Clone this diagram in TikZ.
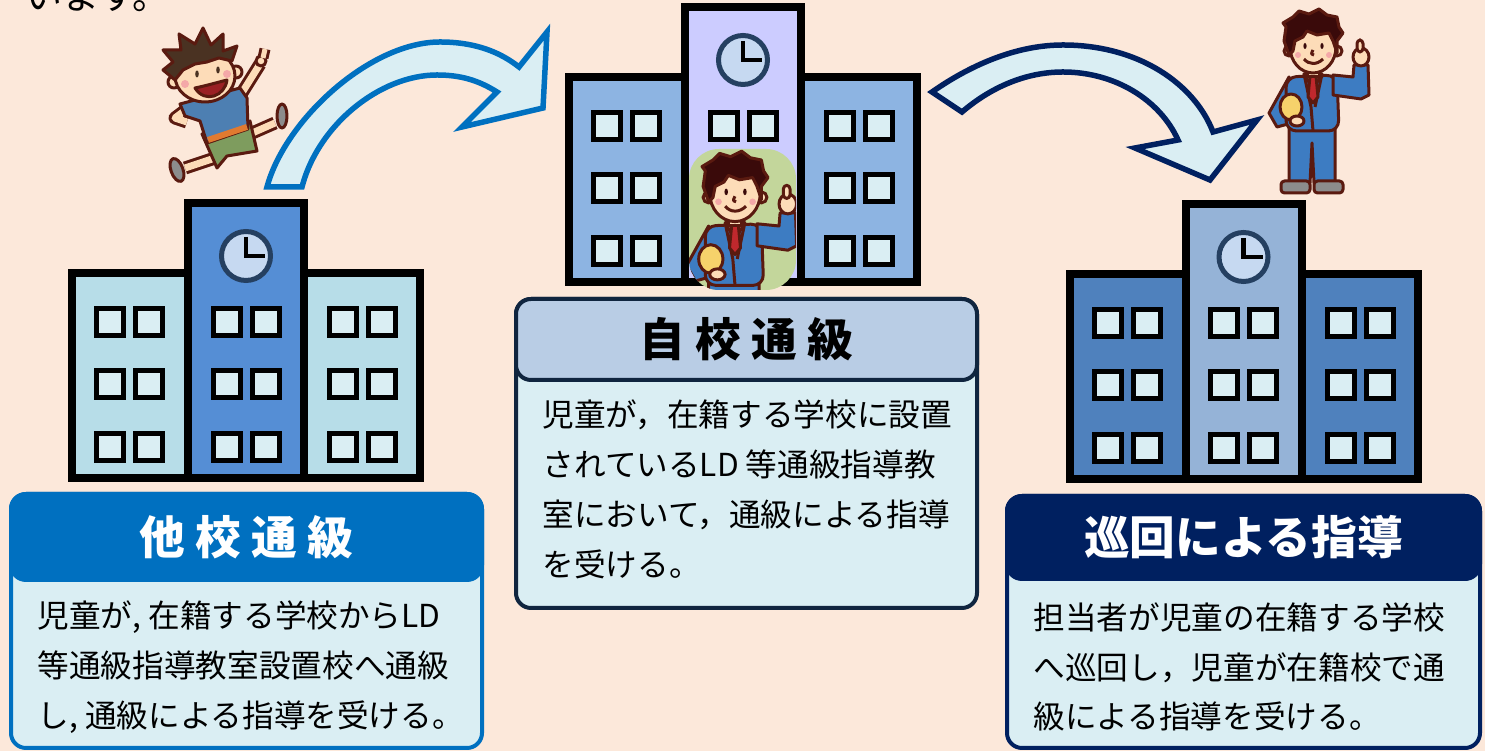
\documentclass[tikz,border=0pt]{standalone}
\usepackage{fontspec}
\newfontfamily\jp{Noto Sans CJK JP}
\usetikzlibrary{positioning}

\definecolor{paper}{HTML}{FCE8DA}
\definecolor{wingA}{HTML}{B7DDE8}
\definecolor{towerA}{HTML}{558ED5}
\definecolor{wingB}{HTML}{8DB4E2}
\definecolor{towerB}{HTML}{CCCCFF}
\definecolor{wingC}{HTML}{4F81BD}
\definecolor{towerC}{HTML}{95B3D7}
\definecolor{pane}{HTML}{DAEEF3}
\definecolor{dialface}{HTML}{C6D9F1}
\definecolor{dialring}{HTML}{254061}
\definecolor{takocol}{HTML}{0070C0}
\definecolor{jikocol}{HTML}{10253F}
\definecolor{jikohead}{HTML}{B9CDE5}
\definecolor{junkaicol}{HTML}{002060}
\definecolor{cardfill}{HTML}{DAEEF3}
\definecolor{panel}{HTML}{C3D69B}
\definecolor{suit}{HTML}{3D7CC2}
\definecolor{skin}{HTML}{FDDCB8}
\definecolor{hair}{HTML}{3A0A0A}
\definecolor{figline}{HTML}{5A1A10}
\definecolor{tie}{HTML}{C0282D}
\definecolor{folder}{HTML}{F6D26B}
\definecolor{shoe}{HTML}{8C8C8C}
\definecolor{cheek}{HTML}{F4A8A8}
\definecolor{shirt}{HTML}{4D7FB2}
\definecolor{shorts}{HTML}{7E9C5E}
\definecolor{hem}{HTML}{E07A30}
\definecolor{boyhair}{HTML}{4A3222}

\tikzset{
  wall/.style={draw=black, line width=0.8mm},
  pane/.style={draw=black, line width=0.5mm, fill=pane},
  dial/.style={draw=dialring, line width=0.5mm, fill=dialface},
  hands/.style={draw=black, line width=0.45mm},
  bigarrow/.style={draw=#1, line width=0.55mm, fill=cardfill, line join=miter},
  cardbody/.style={draw=#1, line width=0.4mm, fill=cardfill, rounded corners=1.5mm,
    inner sep=0, anchor=north west},
  cardhead/.style={draw=#1, line width=0.4mm, rounded corners=1.5mm, inner sep=0,
    anchor=north west, font=\jp\bfseries\fontsize{13pt}{13pt}\selectfont},
  bodytext/.style={font=\jp\fontsize{9pt}{14.2pt}\selectfont, align=left,
    inner sep=0, anchor=west},
  fig/.style={draw=figline, line width=0.3mm, line join=round},
}

% school building, #1 = bottom centre, #2 = wing colour, #3 = tower colour
\newcommand\school[3]{%
  \begin{scope}[shift={#1}]
    \draw[wall, fill=#2] (-174,-205) rectangle (-58,0);
    \draw[wall, fill=#2] (58,-205) rectangle (174,0);
    \draw[wall, fill=#3] (-58,-275) rectangle (58,0);
    \foreach \wx in {-136,-97,-19.5,19.5,97,136}
      \foreach \wy in {-155.5,-93.5,-31}
        \draw[pane] (\wx-13.5,\wy-13.5) rectangle ++(27,27);
    \draw[dial] (0,-222) circle (24.5);
    \draw[hands] (0,-241) -- (0,-222) -- (19,-222);
  \end{scope}}

% teacher, #1 = centre of the head, #2 = scale
\newcommand\teacher[2]{%
  \begin{scope}[shift={#1}, scale=#2]
    % legs
    \draw[fig, fill=suit] (-24,80) -- (22,80) -- (22,136) -- (1,136) -- (-1,96)
      -- (-3,136) -- (-24,136) -- cycle;
    \draw[fig, fill=shoe, rounded corners=1pt] (-32,134) rectangle (-3,146);
    \draw[fig, fill=shoe, rounded corners=1pt] (1,134) rectangle (30,146);
    % arm with the folder
    \draw[fig, fill=suit] (-24,30) -- (-44,66) -- (-36,80) -- (-14,74) -- (-16,60) -- cycle;
    % jacket
    \draw[fig, fill=suit, rounded corners=3pt] (-27,30) -- (24,28) -- (26,84)
      -- (-27,84) -- cycle;
    \draw[fig] (-9,27) -- (-2,60) -- (0,84);
    \draw[fig] (9,27) -- (2,60);
    % raised arm
    \draw[fig, fill=suit] (20,28) -- (40,30) -- (41,18) -- (55,18) -- (56,48)
      -- (48,52) -- (20,48) -- cycle;
    \draw[fig, fill=skin] (48,10) ellipse (8 and 9);
    \draw[fig, fill=skin, rounded corners=1pt] (44,-7) rectangle (50,5);
    % collar and tie
    \draw[fig, fill=white] (-9,27) -- (9,27) -- (0,42) -- cycle;
    \draw[fig, fill=tie] (-3,29) -- (3,29) -- (5,50) -- (0,56) -- (-5,50) -- cycle;
    % folder
    \draw[fig, fill=folder] (-22,60) ellipse (11 and 13);
    \draw[fig, fill=skin] (-16,74) ellipse (7 and 5);
    % head
    \draw[fig, fill=skin] (-6,18) rectangle (6,30);
    \draw[fig, fill=skin] (-24,4) circle (5);
    \draw[fig, fill=skin] (24,4) circle (5);
    \draw[fig, fill=skin] (0,0) ellipse (23 and 26);
    \draw[fig, fill=hair] (-24,8) -- (-29,-6) -- (-27,-20) -- (-30,-24) -- (-20,-30)
      -- (-14,-36) -- (-4,-33) -- (6,-38) -- (14,-32) -- (24,-30) -- (26,-20)
      -- (30,-14) -- (24,-6) -- (24,6) -- (20,-6) -- (16,-14) -- (4,-12) -- (-6,-16)
      -- (-10,-10) -- (-18,-6) -- (-20,4) -- cycle;
    % face
    \fill[hair] (-8,-1) ellipse (1.6 and 3);
    \fill[hair] (9,-1) ellipse (1.6 and 3);
    \draw[fig] (-9,12) .. controls (-4,18) and (4,18) .. (10,12);
    \draw[fig] (0,3) .. controls (-2,7) .. (1,8);
    \fill[cheek] (-15,8) circle (3);
    \fill[cheek] (16,8) circle (3);
  \end{scope}}

\begin{document}
\begin{tikzpicture}[x=0.1mm, y=-0.1mm]
  \useasboundingbox (0,0) rectangle (1485,751);
  \fill[paper] (0,0) rectangle (1485,751);

  % end of the sentence above
  \node[font=\jp\fontsize{10.5pt}{12pt}\selectfont, anchor=base west, inner sep=0]
    (lead) at (25,10) {います。};

  % the three schools
  \school{(246,478)}{wingA}{towerA}
  \school{(743,282)}{wingB}{towerB}
  \school{(1243.5,479)}{wingC}{towerC}

  % teacher in the doorway of the middle school
  \fill[panel, rounded corners=3mm] (689,149) rectangle (796,290);
  \begin{scope}
    \clip[rounded corners=3mm] (689,149) rectangle (796,290);
    \teacher{(735,193)}{1.1}
  \end{scope}

  % teacher walking round
  \teacher{(1313,47)}{1}

  % boy jumping
  \begin{scope}[shift={(205,76)}]
    \draw[fig, double=skin, double distance=0.7mm] (10,82) -- (-20,92);
    \draw[fig, double=skin, double distance=0.7mm] (45,58) -- (70,47);
    \draw[fig, fill=shoe, rotate around={20:(-28,94)}] (-28,94) ellipse (6 and 12);
    \draw[fig, fill=shoe] (77,40) ellipse (5 and 12);
    \draw[fig, fill=shorts] (-3,58) -- (45,45) -- (52,75) -- (22,80) -- (12,92) -- cycle;
    \draw[fig, double=skin, double distance=0.7mm] (35,20) -- (55,-12);
    \draw[fig, fill=skin] (56,-15) circle (5);
    \draw[fig, double=skin, double distance=0.5mm] (58,-18) -- (60,-27);
    \draw[fig, double=skin, double distance=0.7mm] (-18,33) -- (-30,42) -- (-18,46);
    \draw[fig, fill=shirt] (-25,28) -- (35,12) -- (42,22) -- (43,53) -- (2,67)
      -- (-5,45) -- (-20,40) -- cycle;
    \draw[hem, line width=0.6mm] (3,64) -- (42,51);
    \draw[fig, fill=skin] (-31,6) circle (6);
    \draw[fig, fill=skin] (31,-4) circle (6);
    \draw[fig, fill=skin] (0,0) ellipse (30 and 26);
    \draw[fig, fill=boyhair] (-30,4) -- (-42,-6) -- (-32,-14) -- (-42,-26) -- (-24,-26)
      -- (-26,-42) -- (-10,-32) -- (-2,-48) -- (6,-31) -- (18,-42) -- (18,-25)
      -- (32,-30) -- (27,-15) -- (14,-18) -- (2,-14) -- (-10,-12) -- (-22,-6) -- cycle;
    \fill[boyhair] (-8,-2) ellipse (1.8 and 3.5);
    \fill[boyhair] (13,-6) ellipse (1.8 and 3.5);
    \draw[fig, fill=tie!80!black] (-10,12) .. controls (0,10) and (14,6) .. (22,4)
      .. controls (20,20) and (0,28) .. (-10,12) -- cycle;
    \fill[cheek] (-20,8) circle (4);
    \fill[cheek] (22,-2) circle (4);
  \end{scope}

  % arrow from the home school to the other school
  \draw[bigarrow=takocol] (267,187) .. controls (285,120) and (370,42) .. (440,42)
    .. controls (475,42) and (500,52) .. (519,67) -- (547,32) -- (543,108)
    -- (462,127) -- (497,92) .. controls (478,80) and (460,75) .. (437,75)
    .. controls (380,75) and (318,125) .. (302,187) -- cycle;

  % arrow for the visiting teacher
  \draw[bigarrow=junkaicol] (932,92) .. controls (975,62) and (1020,45) .. (1063,45)
    .. controls (1140,45) and (1195,85) .. (1213,132) -- (1257,120) -- (1210,180)
    -- (1135,148) -- (1178,140) .. controls (1160,100) and (1115,72) .. (1063,72)
    .. controls (1025,72) and (990,88) .. (962,112) -- cycle;

  % card: other school
  \node[cardbody=takocol, minimum width=47.1mm, minimum height=25.4mm]
    (takobody) at (9,492) {};
  \node[cardhead=takocol, fill=takocol, text=white, minimum width=47.1mm,
    minimum height=8.6mm] (takohead) at (9,492) {他 校 通 級};
  \node[bodytext] (takotext) at (37,667)
    {児童が, 在籍する学校からLD\\等通級指導教室設置校へ通級\\し, 通級による指導を受ける。};

  % card: own school
  \node[cardbody=jikocol, minimum width=46.1mm, minimum height=30.9mm]
    (jikobody) at (514,297) {};
  \node[cardhead=jikocol, fill=jikohead, text=black, minimum width=46.1mm,
    minimum height=8.1mm] (jikohead) at (514,297) {自 校 通 級};
  \node[bodytext] (jikotext) at (542,489)
    {児童が，在籍する学校に設置\\されているLD 等通級指導教\\室において，通級による指導\\を受ける。};

  % card: visiting teacher
  \node[cardbody=junkaicol, minimum width=47.3mm, minimum height=25.2mm]
    (junkaibody) at (1005,494) {};
  \node[cardhead=junkaicol, fill=junkaicol, text=white, minimum width=47.3mm,
    minimum height=8.3mm] (junkaihead) at (1005,494) {巡回による指導};
  \node[bodytext] (junkaitext) at (1033,667)
    {担当者が児童の在籍する学校\\へ巡回し，児童が在籍校で通\\級による指導を受ける。};
\end{tikzpicture}
\end{document}
